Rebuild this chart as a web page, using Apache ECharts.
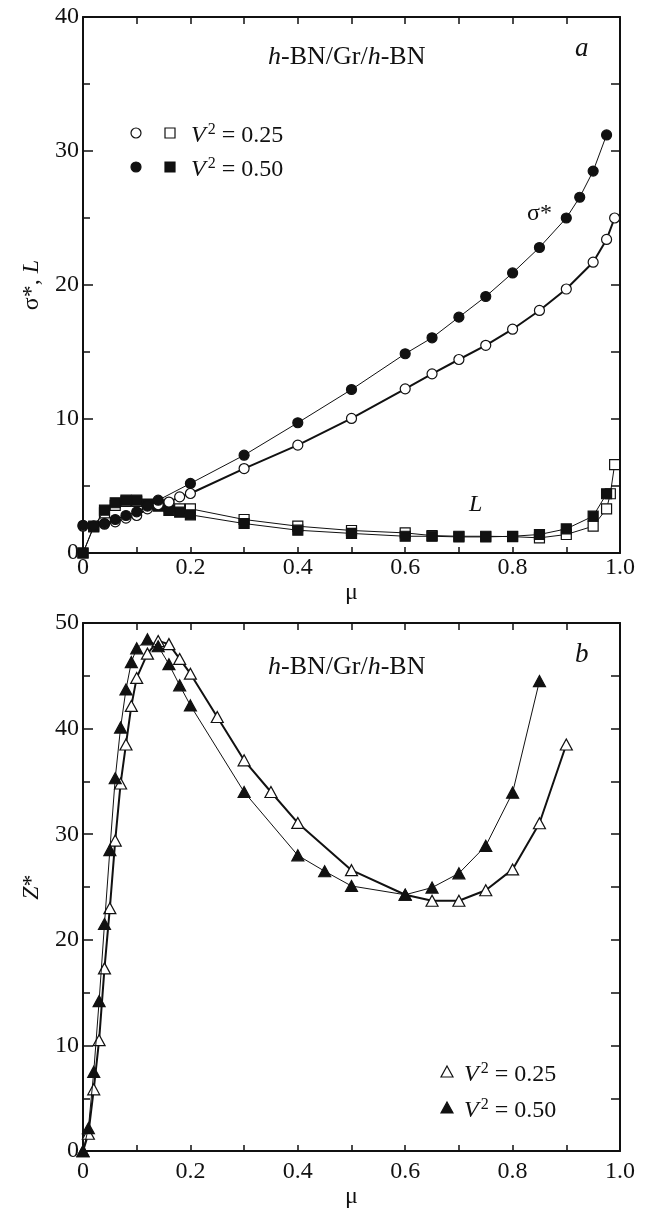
<!DOCTYPE html>
<html><head><meta charset="utf-8">
<script src="https://cdn.jsdelivr.net/npm/echarts@6/dist/echarts.min.js"></script>
<style>html,body{margin:0;padding:0;background:#fff}#c{width:648px;height:1210px}</style>
</head><body><div id="c"></div>
<script>
// ---- Panel a data ----
const muSigma25 = [0,0.02,0.04,0.06,0.08,0.1,0.12,0.14,0.16,0.18,0.2,0.3,0.4,0.5,0.6,0.65,0.7,0.75,0.8,0.85,0.9,0.95,0.975,0.99];
const sigma25   = [2.0,2.0,2.15,2.33,2.6,2.8,3.3,3.6,3.8,4.19,4.44,6.3,8.05,10.04,12.25,13.37,14.44,15.5,16.7,18.1,19.7,21.7,23.4,25.0];
const muSigma50 = [0,0.02,0.04,0.06,0.08,0.1,0.12,0.14,0.2,0.3,0.4,0.5,0.6,0.65,0.7,0.75,0.8,0.85,0.9,0.925,0.95,0.975];
const sigma50   = [2.07,2.0,2.2,2.5,2.8,3.07,3.5,3.94,5.19,7.3,9.72,12.2,14.87,16.06,17.6,19.14,20.9,22.8,25.0,26.55,28.5,31.2];
const muL25 = [0,0.02,0.04,0.06,0.08,0.1,0.12,0.14,0.16,0.18,0.2,0.3,0.4,0.5,0.6,0.65,0.7,0.75,0.8,0.85,0.9,0.95,0.975,0.982,0.99];
const L25   = [0,2.0,3.0,3.55,3.85,3.85,3.65,3.6,3.45,3.3,3.3,2.5,2.0,1.68,1.5,1.3,1.25,1.25,1.22,1.13,1.38,2.0,3.3,4.42,6.6];
const muL50 = [0,0.02,0.04,0.06,0.08,0.1,0.12,0.14,0.16,0.18,0.2,0.3,0.4,0.5,0.6,0.65,0.7,0.75,0.8,0.85,0.9,0.95,0.975];
const L50   = [0,1.95,3.2,3.75,3.94,3.94,3.62,3.5,3.17,3.05,2.85,2.2,1.7,1.46,1.25,1.25,1.2,1.2,1.25,1.38,1.8,2.75,4.42];
// ---- Panel b data ----
const muZ25 = [0,0.01,0.02,0.03,0.04,0.05,0.06,0.07,0.08,0.09,0.1,0.12,0.14,0.16,0.18,0.2,0.25,0.3,0.35,0.4,0.5,0.6,0.65,0.7,0.75,0.8,0.85,0.9];
const Z25   = [0,1.64,5.85,10.5,17.3,23.0,29.4,34.8,38.5,42.15,44.8,47.1,48.3,48.0,46.6,45.2,41.1,37.0,34.0,31.07,26.6,24.27,23.7,23.7,24.7,26.67,31.04,38.5];
const muZ50 = [0,0.01,0.02,0.03,0.04,0.05,0.06,0.07,0.08,0.09,0.1,0.12,0.14,0.16,0.18,0.2,0.3,0.4,0.45,0.5,0.6,0.65,0.7,0.75,0.8,0.85];
const Z50   = [0,2.17,7.5,14.2,21.5,28.5,35.3,40.1,43.7,46.3,47.6,48.45,47.8,46.1,44.1,42.2,34.0,28.0,26.5,25.1,24.27,24.95,26.3,28.9,33.94,44.5];
// ---- ticks ----
const xTicks = [0,0.2,0.4,0.6,0.8,1.0];
const yTicksA = [0,10,20,30,40];
const yTicksB = [0,10,20,30,40,50];

const FONT = '"Liberation Serif","Times New Roman",serif';
const FS = 24;
const zip = (a,b) => a.map((v,i)=>[v,b[i]]);
const BLACK = '#111';

const chart = echarts.init(document.getElementById('c'), null, {renderer:'canvas'});

const G = [
  {left:83, top:17, width:537, height:536},
  {left:83, top:623, width:537, height:535}
];

function xAx(gi, pos, margin, gap){
  const bottom = pos==='bottom';
  return {
    type:'value', gridIndex:gi, position:pos, min:xTicks[0], max:xTicks[xTicks.length-1], interval:0.2,
    axisLine:{show:true, onZero:false, lineStyle:{color:BLACK, width:2}},
    axisTick:{show:true, inside:true, length:bottom?6:7, lineStyle:{color:BLACK, width:1.5}},
    minorTick:{show:true, splitNumber:2, length:bottom?6:7, lineStyle:{color:BLACK, width:1.5}},
    splitLine:{show:false}, minorSplitLine:{show:false},
    axisLabel:{show:bottom, margin:margin||4, color:BLACK, fontFamily:FONT, fontSize:FS,
      formatter:v=>Math.abs(v)<1e-9?'0':v.toFixed(1)},
    name: bottom?'μ':'', nameLocation:'middle', nameGap:gap||14,
    nameTextStyle:{color:BLACK, fontFamily:FONT, fontSize:FS}
  };
}
function yAx(gi, pos, ticks, name, gap){
  const left = pos==='left';
  return {
    type:'value', gridIndex:gi, position:pos, min:ticks[0], max:ticks[ticks.length-1], interval:10,
    axisLine:{show:true, onZero:false, lineStyle:{color:BLACK, width:2}},
    axisTick:{show:true, inside:true, length:left?10:9, lineStyle:{color:BLACK, width:1.5}},
    minorTick:{show:true, splitNumber:2, length:left?7:9, lineStyle:{color:BLACK, width:1.5}},
    splitLine:{show:false}, minorSplitLine:{show:false},
    axisLabel:{show:left, margin:4, color:BLACK, fontFamily:FONT, fontSize:FS},
    name: left?name:'', nameLocation:'middle', nameGap:gap, nameRotate:90,
    nameTextStyle:{color:BLACK, fontFamily:FONT, fontSize:FS,
      rich:{n:{fontFamily:FONT,fontSize:FS,color:BLACK}, i:{fontFamily:FONT,fontSize:FS,fontStyle:'italic',color:BLACK}}}
  };
}

function ser(xi, yi, data, symbol, size, filled, lw, z){
  return {
    type:'line', xAxisIndex:xi, yAxisIndex:yi, data:data, symbol:symbol, symbolSize:size,
    showAllSymbol:true, animation:false, z:z,
    lineStyle:{color:BLACK, width:lw},
    itemStyle:{color: filled?BLACK:'#fff', borderColor:BLACK, borderWidth:1.2},
    emphasis:{disabled:true}
  };
}

const rich = {
  v:{fontFamily:FONT, fontSize:FS, fontStyle:'italic', color:BLACK, lineHeight:28},
  s:{fontFamily:FONT, fontSize:16, color:BLACK, lineHeight:15, verticalAlign:'top', padding:[0,0,0,2]},
  n:{fontFamily:FONT, fontSize:FS, color:BLACK, lineHeight:28},
  t:{fontFamily:FONT, fontSize:26, color:BLACK, lineHeight:28},
  ti:{fontFamily:FONT, fontSize:26, fontStyle:'italic', color:BLACK, lineHeight:28}
};
function txt(x,y,text){
  return {type:'text', z:100, style:{x:x, y:y, text:text, rich:rich, verticalAlign:'middle', align:'left',
    fontFamily:FONT, fontSize:FS, fill:BLACK}};
}
const openStyle = {fill:'#fff', stroke:BLACK, lineWidth:1.2};
const fillStyle = {fill:BLACK, stroke:BLACK, lineWidth:1.2};
function tri(cx,cy,st){
  return {type:'polygon', z:100, shape:{points:[[cx,cy-6],[cx+6,cy+5],[cx-6,cy+5]]}, style:st};
}

const graphic = [
  // panel a
  txt(268, 57, '{ti|h}{t|-BN/Gr/}{ti|h}{t|-BN}'),
  {type:'text', z:100, style:{x:575, y:49, text:'a', fontFamily:FONT, fontSize:27, fontStyle:'italic', fill:BLACK, verticalAlign:'middle'}},
  {type:'circle', z:100, shape:{cx:136, cy:133, r:5}, style:openStyle},
  {type:'rect', z:100, shape:{x:165, y:128, width:10, height:10}, style:openStyle},
  txt(191, 136, '{v|V}{s|2}{n| = 0.25}'),
  {type:'circle', z:100, shape:{cx:136, cy:167, r:5}, style:fillStyle},
  {type:'rect', z:100, shape:{x:165, y:162, width:10, height:10}, style:fillStyle},
  txt(191, 170, '{v|V}{s|2}{n| = 0.50}'),
  {type:'text', z:100, style:{x:527, y:214, text:'σ*', fontFamily:FONT, fontSize:FS, fill:BLACK, verticalAlign:'middle'}},
  {type:'text', z:100, style:{x:469, y:505, text:'L', fontFamily:FONT, fontSize:FS, fontStyle:'italic', fill:BLACK, verticalAlign:'middle'}},
  // panel b
  txt(268, 667, '{ti|h}{t|-BN/Gr/}{ti|h}{t|-BN}'),
  {type:'text', z:100, style:{x:575, y:655, text:'b', fontFamily:FONT, fontSize:27, fontStyle:'italic', fill:BLACK, verticalAlign:'middle'}},
  tri(447,1072,openStyle),
  txt(464, 1075, '{v|V}{s|2}{n| = 0.25}'),
  tri(447,1108,fillStyle),
  txt(464, 1111, '{v|V}{s|2}{n| = 0.50}')
];

chart.setOption({
  animation:false,
  backgroundColor:'#fff',
  grid:G,
  xAxis:[xAx(0,'bottom',3,12), xAx(0,'top'), xAx(1,'bottom',9,26), xAx(1,'top')],
  yAxis:[yAx(0,'left',yTicksA,'{n|σ*, }{i|L}',36), yAx(0,'right',yTicksA,'',0),
         yAx(1,'left',yTicksB,'{i|Z}{n|*}',34), yAx(1,'right',yTicksB,'',0)],
  series:[
    ser(0,0,zip(muL25,L25),'rect',10,false,1,3),
    ser(0,0,zip(muL50,L50),'rect',10,true,1,4),
    ser(0,0,zip(muSigma25,sigma25),'circle',10,false,2,5),
    ser(0,0,zip(muSigma50,sigma50),'circle',10,true,1,6),
    ser(2,2,zip(muZ25,Z25),'triangle',[12,11],false,2,5),
    ser(2,2,zip(muZ50,Z50),'triangle',[12,11],true,1,6)
  ],
  graphic:graphic
});
</script>
</body></html>
